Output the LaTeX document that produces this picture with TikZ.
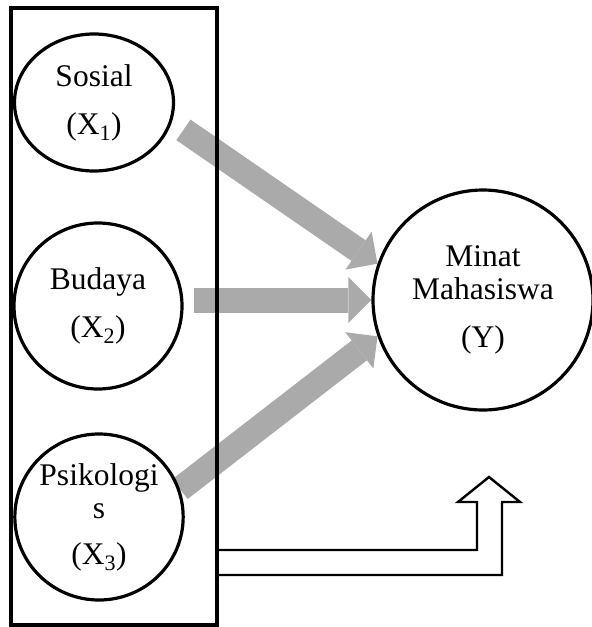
\documentclass[tikz,border=0pt]{standalone}
\usepackage{fontspec}
\setmainfont{Liberation Serif}
\usetikzlibrary{positioning,shapes.geometric,arrows.meta,backgrounds}
\definecolor{flowgray}{HTML}{AAAAAA}

\begin{document}
\begin{tikzpicture}[
    x=1pt, y=-1pt,
    var/.style={draw, ellipse, line width=3.2pt, inner sep=0pt, align=center, font=\fontsize{31.5}{33}\selectfont},
    groupbox/.style={draw, line width=3.5pt, inner sep=0pt},
    flow/.style={draw=flowgray, line width=25pt, -{Triangle[length=23pt,width=46pt,line width=0pt]}},
    hollow/.style={draw, line width=2.4pt, line join=miter}
]
\useasboundingbox (0,0) rectangle (592,627);

% Independent variables
\node[var, minimum width=159pt, minimum height=137pt] (sos) at (94,102.5) {Sosial\\[15pt](X\textsubscript{1})};
\node[var, minimum width=168pt, minimum height=166pt] (bud) at (98,306) {Budaya\\[15pt](X\textsubscript{2})};
\node[var, minimum width=168pt, minimum height=166pt] (psi) at (99,517) {Psikologi\\s\\[13pt](X\textsubscript{3})};

% Group box
\node[groupbox, minimum width=206pt, minimum height=617pt] (box) at (114,316.5) {};

% Dependent variable
\node[var, minimum width=220pt, minimum height=220pt] (minat) at (483,300) {Minat\\Mahasiswa\\[15pt](Y)};

% Partial effects
\begin{scope}[on background layer]
\draw[flow, shorten <=14pt] (sos.-14) -- (minat.161);
\draw[flow, shorten <=10pt] (bud.east |- minat.west) -- (minat.west);
\draw[flow] (psi.19) -- (minat.199);
\end{scope}

% Joint effect
\coordinate (tip) at (489,477);
\draw[hollow] (box.east |- 0,550) -- (477,550) -- (477,502) -- (458,502) -- (tip)
    -- (520,502) -- (502,502) -- (502,575) -- (box.east |- 0,575);

\end{tikzpicture}
\end{document}
